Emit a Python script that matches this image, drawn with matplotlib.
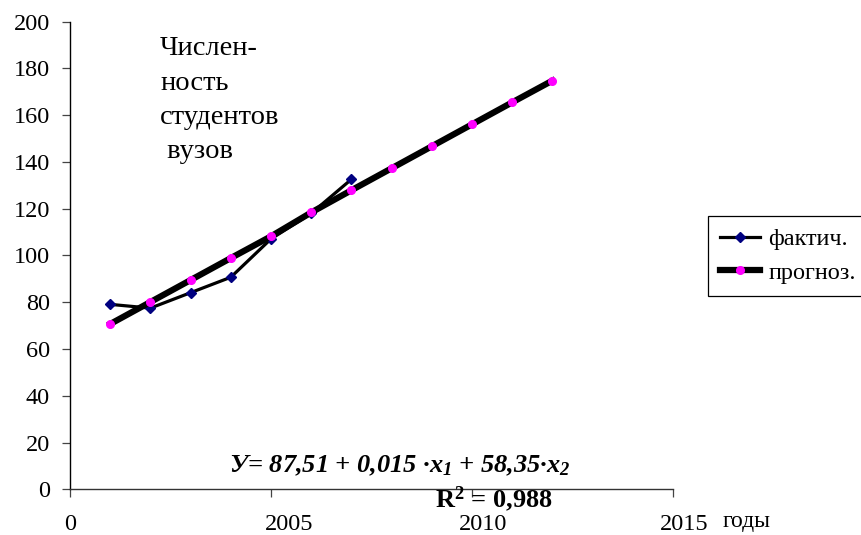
import matplotlib
matplotlib.use("Agg")
import matplotlib.pyplot as plt
from matplotlib.transforms import ScaledTranslation

# ---- data ----
years_fact = [2001, 2002, 2003, 2004, 2005, 2006, 2007]
fact = [79.1, 77.5, 84.1, 90.7, 107.1, 118.0, 132.6]

years_prog = [2001, 2002, 2003, 2004, 2005, 2006, 2007, 2008, 2009, 2010, 2011, 2012]
prog = [70.7, 80.1, 89.5, 98.9, 108.2, 118.4, 127.9, 137.3, 146.7, 156.1, 165.5, 174.8]

xtick_pos = [2000, 2005, 2010, 2015]
xtick_labels = ["0", "2005", "2010", "2015"]
ytick_pos = list(range(0, 201, 20))

title_text = "Числен-\nность\nстудентов\n вузов"
legend_labels = ["фактич.", "прогноз."]
x_label = "годы"

plt.rcParams["font.family"] = ["Liberation Serif", "DejaVu Serif"]
plt.rcParams["mathtext.fontset"] = "custom"
plt.rcParams["mathtext.rm"] = "Liberation Serif"
plt.rcParams["mathtext.it"] = "Liberation Serif:italic"
plt.rcParams["mathtext.bf"] = "Liberation Serif:bold"
plt.rcParams["mathtext.bfit"] = "Liberation Serif:bold:italic"

W, H = 862, 535
fig = plt.figure(figsize=(W / 100, H / 100), dpi=100)
x0, x1, ytop, ybot = 70, 673, 21.7, 489.3
ax = fig.add_axes([x0 / W, 1 - ybot / H, (x1 - x0) / W, (ybot - ytop) / H])

ax.plot(years_fact, fact, color="black", lw=2.3, marker="D", ms=5,
        mfc="#000080", mec="#000080", label=legend_labels[0], zorder=3)
ax.plot(years_prog, prog, color="black", lw=4.5, marker="o", ms=5.5,
        mfc="#FF00FF", mec="#FF00FF", label=legend_labels[1], zorder=4)

ax.set_xlim(2000, 2015)
ax.set_ylim(0, 200)
ax.set_xticks(xtick_pos)
ax.set_xticklabels(xtick_labels)
ax.set_yticks(ytick_pos)

for s in ["top", "right"]:
    ax.spines[s].set_visible(False)
ax.spines["left"].set_color("black")
ax.spines["bottom"].set_color("#333333")
ax.spines["left"].set_linewidth(1.0)
ax.spines["bottom"].set_linewidth(1.0)

ax.tick_params(axis="x", direction="out", length=5.5, width=0.9, color="#444444",
               pad=12.5, labelsize=17.5)
ax.tick_params(axis="y", direction="out", length=5.5, width=0.9, color="#444444",
               pad=9, labelsize=17.5)

label_shift_px = [0, 18, 11, 11]
for lab, dx in zip(ax.get_xticklabels(), label_shift_px):
    lab.set_transform(lab.get_transform() + ScaledTranslation(dx / 100, 0, fig.dpi_scale_trans))

fig.text(160 / W, 1 - 36 / H, title_text, ha="left", va="top", fontsize=20.5,
         linespacing=1.5)

fig.text(400 / W, 1 - 472 / H,
         "У= 87,51 + 0,015 ·$\\mathbfit{x_1}$ + 58,35·$\\mathbfit{x_2}$",
         ha="center", va="baseline", fontsize=19, fontweight="bold", style="italic")
fig.text(494 / W, 1 - 507 / H, "R$^\\mathbf{2}$ = 0,988",
         ha="center", va="baseline", fontsize=19, fontweight="bold")

fig.text(723 / W, 1 - 527 / H, x_label, ha="left", va="baseline", fontsize=17)

leg = ax.legend(loc="upper left", bbox_to_anchor=(708 / W, 1 - 216 / H),
                bbox_transform=fig.transFigure, borderaxespad=0, fancybox=False,
                edgecolor="black", framealpha=1, fontsize=17.5, handlelength=1.65,
                handletextpad=0.33, borderpad=0.5, labelspacing=0.48)
leg.get_frame().set_linewidth(0.9)

fig.savefig("out.png", dpi=100)
